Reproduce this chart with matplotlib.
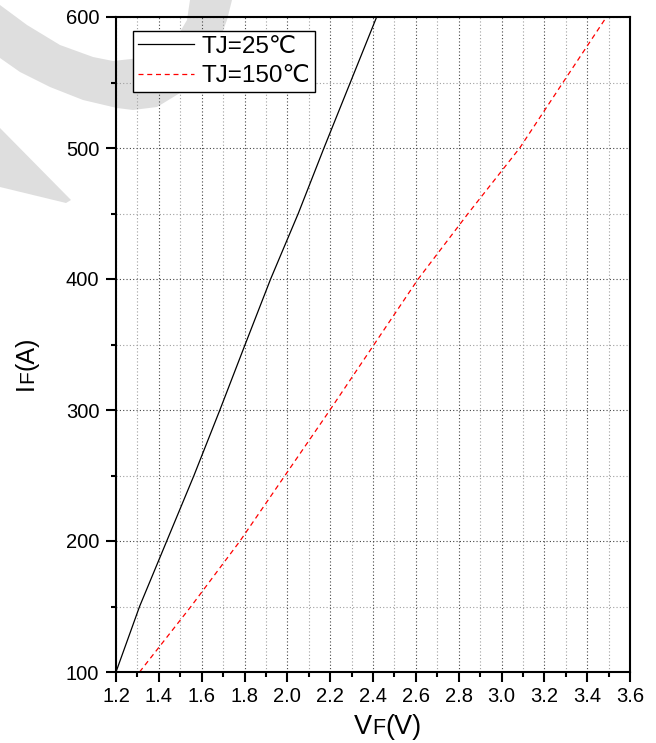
import numpy as np
import matplotlib
matplotlib.use("Agg")
import matplotlib.pyplot as plt
from matplotlib.patches import Polygon
from matplotlib.ticker import MultipleLocator, FormatStrFormatter

plt.rcParams['font.family'] = ['Liberation Sans', 'DejaVu Sans']

# forward current (A) and forward voltage (V)
i_f = [100, 150, 200, 250, 300, 350, 400, 450, 500, 550, 600]
vf_25 = [1.20, 1.31, 1.437, 1.564, 1.685, 1.803, 1.922, 2.051, 2.171, 2.294, 2.417]
vf_150 = [1.31, 1.55, 1.779, 1.989, 2.199, 2.405, 2.611, 2.844, 3.085, 3.287, 3.49]
series_labels = ["TJ=25\u2103", "TJ=150\u2103"]

W, H = 656, 743
fig = plt.figure(figsize=(W / 100, H / 100), dpi=100)


def px(x, y):
    # pixel coords (from top-left) -> figure fraction
    return (x / W, 1 - y / H)


# light grey watermark behind the plot
crescent = [(0, 58), (20, 72), (50, 87), (83, 100), (117, 108), (133, 110),
            (157, 107), (180, 93), (200, 73), (217, 47), (227, 20), (232, 0),
            (190, 0), (187, 20), (177, 37), (163, 50), (140, 58), (113, 61),
            (93, 57), (60, 45), (27, 25), (0, 5)]
wedge = [(0, 128), (71, 200), (66, 203), (0, 187)]
for shape in (crescent, wedge):
    fig.patches.append(Polygon([px(*p) for p in shape], closed=True,
                               transform=fig.transFigure, facecolor='#dedede',
                               edgecolor='none', zorder=-5))

ax = fig.add_axes([116 / W, 1 - 672 / H, (630 - 116) / W, (672 - 17) / H])
ax.patch.set_alpha(0)

ax.plot(vf_25, i_f, color='black', lw=0.9, label=series_labels[0])
ax.plot(vf_150, i_f, color='red', lw=0.9, ls=(0, (4, 3)), label=series_labels[1])

ax.set_xlim(1.2, 3.6)
ax.set_ylim(100, 600)
ax.xaxis.set_major_locator(MultipleLocator(0.2))
ax.xaxis.set_minor_locator(MultipleLocator(0.1))
ax.xaxis.set_major_formatter(FormatStrFormatter('%.1f'))
ax.yaxis.set_major_locator(MultipleLocator(100))
ax.yaxis.set_minor_locator(MultipleLocator(50))

ax.grid(which='major', color='#444444', ls=(0, (1, 2)), lw=0.8)
ax.grid(which='minor', color='#a0a0a0', ls=(0, (1, 2)), lw=0.8)
ax.set_axisbelow(True)

for s in ax.spines.values():
    s.set_linewidth(1.5)
ax.tick_params(which='major', direction='out', length=7, width=1.5,
               labelsize=14.5, top=False, right=False)
ax.tick_params(axis='x', which='major', pad=4)
ax.tick_params(axis='y', which='major', pad=5)
ax.tick_params(which='minor', direction='out', length=3.5, width=1.5,
               top=False, right=False)

leg = fig.legend(loc='upper left', bbox_to_anchor=px(133, 31),
                 bbox_transform=fig.transFigure, fontsize=17.5,
                 frameon=True, fancybox=False, borderpad=0.2,
                 handlelength=2.3, handletextpad=0.3, labelspacing=0.3,
                 borderaxespad=0)
leg.get_frame().set_edgecolor('black')
leg.get_frame().set_linewidth(1.0)
leg.get_frame().set_alpha(1)

# axis labels with the smaller "F" sitting on the baseline
renderer = fig.canvas.get_renderer()


def label_pieces(pieces, x, y, vertical=False):
    pos = list(px(x, y))
    for s, size in pieces:
        t = fig.text(pos[0], pos[1], s, fontsize=size, ha='left', va='baseline',
                     rotation=90 if vertical else 0, rotation_mode='anchor')
        bb = t.get_window_extent(renderer)
        if vertical:
            pos[1] += bb.height / H
        else:
            pos[0] += bb.width / W


label_pieces([("V", 19.5), ("F", 15.5), ("(V)", 19.5)], 354, 734)
label_pieces([("I", 18), ("F", 15), ("(A)", 18)], 33, 390, vertical=True)

fig.savefig("out.png", dpi=100)
